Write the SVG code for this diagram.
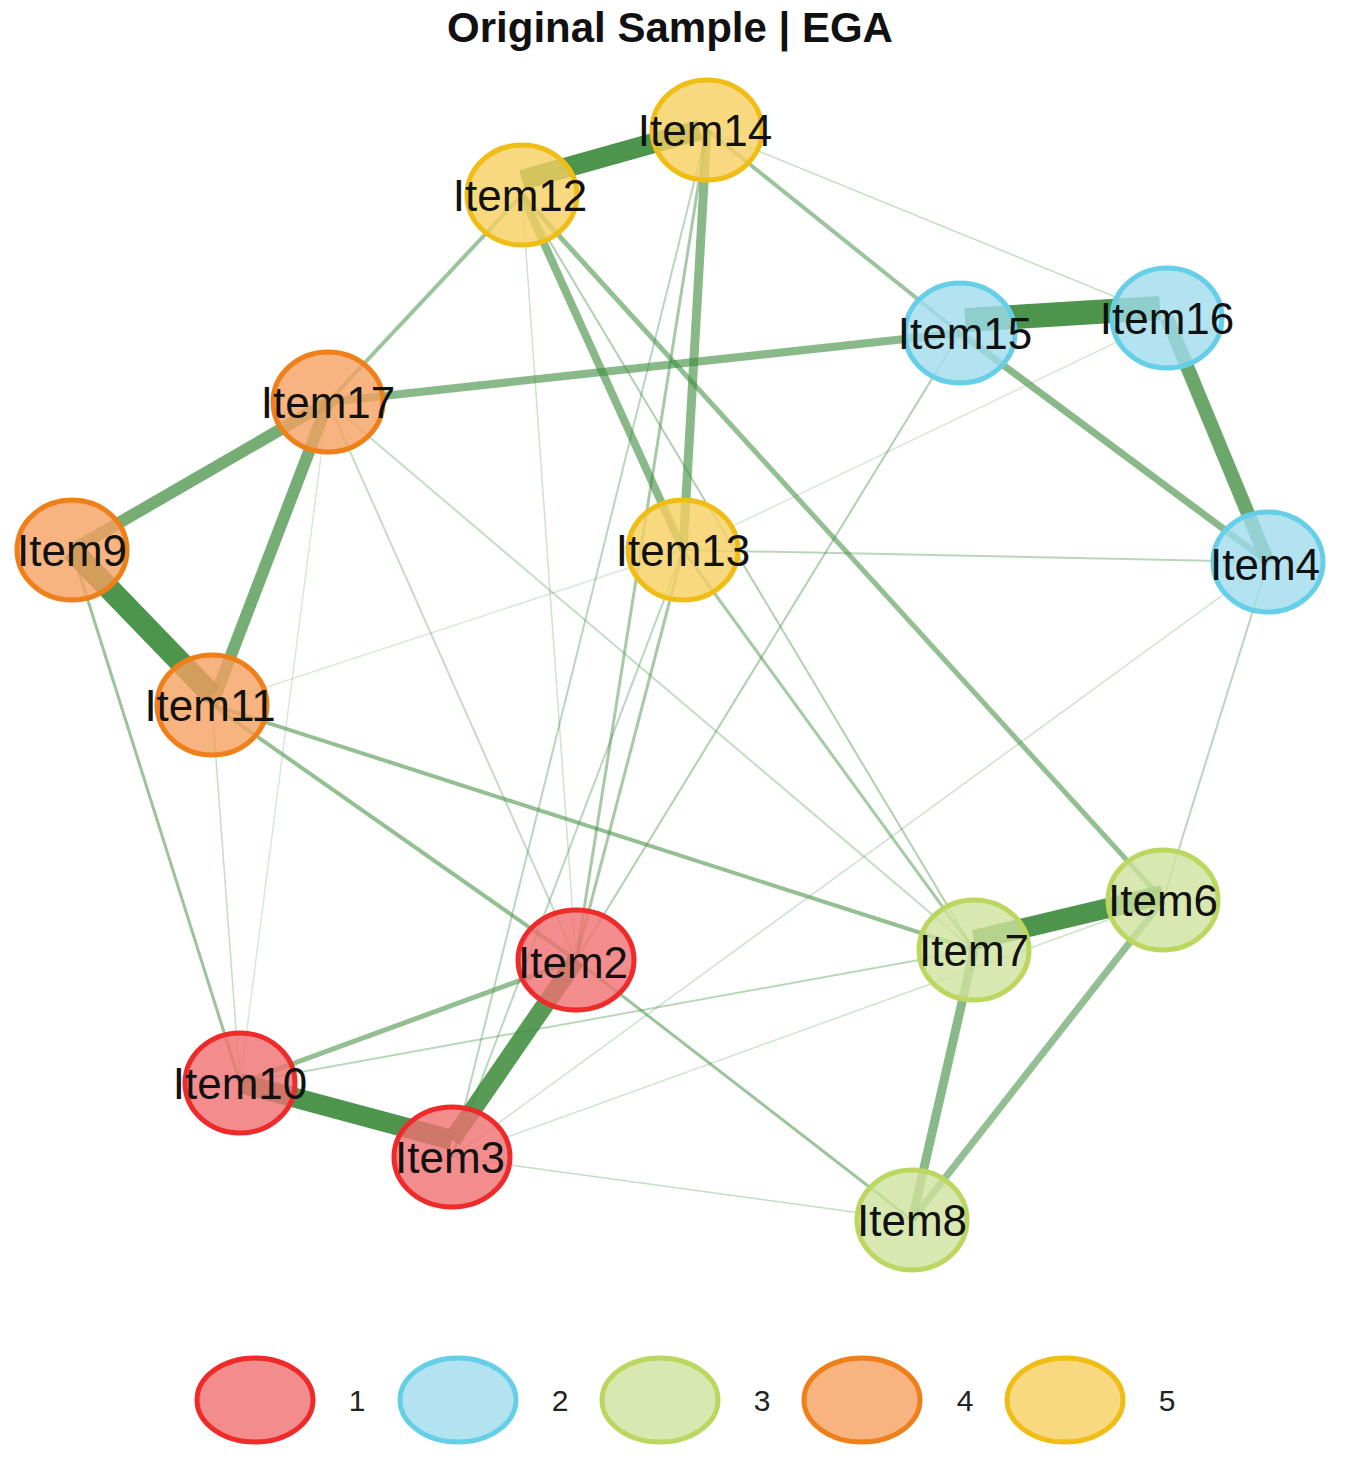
<svg xmlns="http://www.w3.org/2000/svg" width="1355" height="1461" viewBox="0 0 1355 1461">
<style>
.e{stroke:#3a8a3a;stroke-linecap:butt;fill:none}
.t{font-family:"Liberation Sans",Arial,sans-serif;font-size:44px;fill:#111;text-anchor:middle}
.c1{fill:#f07070;fill-opacity:0.8;stroke:#ee2a2a;stroke-width:5}
.c2{fill:#a0dcee;fill-opacity:0.8;stroke:#66cfe8;stroke-width:5}
.c3{fill:#cfe29c;fill-opacity:0.8;stroke:#bcd760;stroke-width:5}
.c4{fill:#f5a060;fill-opacity:0.8;stroke:#ef7f18;stroke-width:5}
.c5{fill:#f6d060;fill-opacity:0.8;stroke:#efbd14;stroke-width:5}
.lg{font-family:"Liberation Sans",Arial,sans-serif;font-size:30px;fill:#222;text-anchor:middle}
</style>
<rect width="1355" height="1461" fill="#fff"/>
<text x="670" y="42" font-family="Liberation Sans,Arial,sans-serif" font-weight="bold" font-size="42" text-anchor="middle" fill="#111">Original Sample | EGA</text>
<g id="edges">
<line class="e" x1="522" y1="180" x2="700" y2="130" stroke-width="20" stroke-opacity="0.9"/>
<line class="e" x1="965" y1="320" x2="1160" y2="308" stroke-width="24" stroke-opacity="0.9"/>
<line class="e" x1="1167" y1="318" x2="1268" y2="562" stroke-width="14" stroke-opacity="0.75"/>
<line class="e" x1="72" y1="550" x2="212" y2="695" stroke-width="22" stroke-opacity="0.9"/>
<line class="e" x1="240" y1="1083" x2="452" y2="1140" stroke-width="20" stroke-opacity="0.9"/>
<line class="e" x1="452" y1="1140" x2="576" y2="960" stroke-width="18" stroke-opacity="0.85"/>
<line class="e" x1="974" y1="940" x2="1163" y2="895" stroke-width="20" stroke-opacity="0.9"/>
<line class="e" x1="328" y1="402" x2="212" y2="705" stroke-width="12" stroke-opacity="0.7"/>
<line class="e" x1="328" y1="402" x2="72" y2="550" stroke-width="12" stroke-opacity="0.7"/>
<line class="e" x1="522" y1="195" x2="683" y2="550" stroke-width="8" stroke-opacity="0.6"/>
<line class="e" x1="707" y1="130" x2="683" y2="550" stroke-width="9" stroke-opacity="0.6"/>
<line class="e" x1="328" y1="402" x2="960" y2="333" stroke-width="8" stroke-opacity="0.6"/>
<line class="e" x1="960" y1="333" x2="1268" y2="562" stroke-width="7" stroke-opacity="0.6"/>
<line class="e" x1="974" y1="950" x2="912" y2="1220" stroke-width="9" stroke-opacity="0.6"/>
<line class="e" x1="1163" y1="900" x2="912" y2="1220" stroke-width="7" stroke-opacity="0.55"/>
<line class="e" x1="522" y1="195" x2="1163" y2="900" stroke-width="5" stroke-opacity="0.55"/>
<line class="e" x1="522" y1="195" x2="328" y2="402" stroke-width="4" stroke-opacity="0.5"/>
<line class="e" x1="707" y1="130" x2="960" y2="333" stroke-width="4" stroke-opacity="0.5"/>
<line class="e" x1="212" y1="705" x2="974" y2="950" stroke-width="4" stroke-opacity="0.55"/>
<line class="e" x1="212" y1="705" x2="576" y2="960" stroke-width="4" stroke-opacity="0.55"/>
<line class="e" x1="240" y1="1083" x2="576" y2="960" stroke-width="5" stroke-opacity="0.55"/>
<line class="e" x1="72" y1="550" x2="240" y2="1083" stroke-width="3" stroke-opacity="0.5"/>
<line class="e" x1="707" y1="130" x2="576" y2="960" stroke-width="3" stroke-opacity="0.45"/>
<line class="e" x1="683" y1="550" x2="576" y2="960" stroke-width="3" stroke-opacity="0.45"/>
<line class="e" x1="683" y1="550" x2="974" y2="950" stroke-width="3" stroke-opacity="0.45"/>
<line class="e" x1="576" y1="960" x2="912" y2="1220" stroke-width="3" stroke-opacity="0.5"/>
<line class="e" x1="960" y1="333" x2="576" y2="960" stroke-width="2" stroke-opacity="0.4"/>
<line class="e" x1="522" y1="195" x2="974" y2="950" stroke-width="2" stroke-opacity="0.4"/>
<line class="e" x1="707" y1="130" x2="452" y2="1157" stroke-width="2" stroke-opacity="0.35"/>
<line class="e" x1="683" y1="550" x2="452" y2="1157" stroke-width="2" stroke-opacity="0.35"/>
<line class="e" x1="683" y1="550" x2="1268" y2="562" stroke-width="2" stroke-opacity="0.35"/>
<line class="e" x1="240" y1="1083" x2="974" y2="950" stroke-width="2" stroke-opacity="0.35"/>
<line class="e" x1="328" y1="402" x2="974" y2="950" stroke-width="2" stroke-opacity="0.3"/>
<line class="e" x1="328" y1="402" x2="576" y2="960" stroke-width="2" stroke-opacity="0.3"/>
<line class="e" x1="1268" y1="562" x2="1163" y2="900" stroke-width="2" stroke-opacity="0.35"/>
<line class="e" x1="1268" y1="562" x2="452" y2="1157" stroke-width="1.5" stroke-opacity="0.25"/>
<line class="e" x1="707" y1="130" x2="1167" y2="318" stroke-width="1.5" stroke-opacity="0.3"/>
<line class="e" x1="1167" y1="318" x2="683" y2="550" stroke-width="1.5" stroke-opacity="0.2"/>
<line class="e" x1="452" y1="1157" x2="912" y2="1220" stroke-width="1.5" stroke-opacity="0.3"/>
<line class="e" x1="212" y1="705" x2="240" y2="1083" stroke-width="1.5" stroke-opacity="0.3"/>
<line class="e" x1="212" y1="705" x2="683" y2="550" stroke-width="1.5" stroke-opacity="0.2"/>
<line class="e" x1="522" y1="195" x2="576" y2="960" stroke-width="1.5" stroke-opacity="0.25"/>
<line class="e" x1="1163" y1="900" x2="452" y2="1157" stroke-width="1.5" stroke-opacity="0.25"/>
<line class="e" x1="328" y1="402" x2="240" y2="1083" stroke-width="1.5" stroke-opacity="0.2"/>
</g>
<g id="Item14"><ellipse class="c5" cx="707" cy="130" rx="55" ry="50"/><text class="t" x="705" y="146">Item14</text></g>
<g id="Item12"><ellipse class="c5" cx="522" cy="195" rx="55" ry="50"/><text class="t" x="520" y="211">Item12</text></g>
<g id="Item15"><ellipse class="c2" cx="960" cy="333" rx="55" ry="50"/><text class="t" x="965" y="349">Item15</text></g>
<g id="Item16"><ellipse class="c2" cx="1167" cy="318" rx="55" ry="50"/><text class="t" x="1167" y="334">Item16</text></g>
<g id="Item17"><ellipse class="c4" cx="328" cy="402" rx="55" ry="50"/><text class="t" x="328" y="418">Item17</text></g>
<g id="Item9"><ellipse class="c4" cx="72" cy="550" rx="55" ry="50"/><text class="t" x="72" y="566">Item9</text></g>
<g id="Item13"><ellipse class="c5" cx="683" cy="550" rx="55" ry="50"/><text class="t" x="683" y="566">Item13</text></g>
<g id="Item4"><ellipse class="c2" cx="1268" cy="562" rx="55" ry="50"/><text class="t" x="1265" y="580">Item4</text></g>
<g id="Item11"><ellipse class="c4" cx="212" cy="705" rx="55" ry="50"/><text class="t" x="210" y="721">Item11</text></g>
<g id="Item6"><ellipse class="c3" cx="1163" cy="900" rx="55" ry="50"/><text class="t" x="1163" y="916">Item6</text></g>
<g id="Item7"><ellipse class="c3" cx="974" cy="950" rx="55" ry="50"/><text class="t" x="974" y="966">Item7</text></g>
<g id="Item2"><ellipse class="c1" cx="576" cy="960" rx="58" ry="50"/><text class="t" x="573" y="978">Item2</text></g>
<g id="Item10"><ellipse class="c1" cx="240" cy="1083" rx="55" ry="50"/><text class="t" x="240" y="1099">Item10</text></g>
<g id="Item3"><ellipse class="c1" cx="452" cy="1157" rx="58" ry="50"/><text class="t" x="450" y="1173">Item3</text></g>
<g id="Item8"><ellipse class="c3" cx="912" cy="1220" rx="55" ry="50"/><text class="t" x="912" y="1236">Item8</text></g>
<g id="legend">
<ellipse class="c1" cx="255" cy="1400" rx="58" ry="42"/><text class="lg" x="357" y="1411">1</text>
<ellipse class="c2" cx="458" cy="1400" rx="58" ry="42"/><text class="lg" x="560" y="1411">2</text>
<ellipse class="c3" cx="660" cy="1400" rx="58" ry="42"/><text class="lg" x="762" y="1411">3</text>
<ellipse class="c4" cx="862" cy="1400" rx="58" ry="42"/><text class="lg" x="965" y="1411">4</text>
<ellipse class="c5" cx="1065" cy="1400" rx="58" ry="42"/><text class="lg" x="1167" y="1411">5</text>
</g>
</svg>
